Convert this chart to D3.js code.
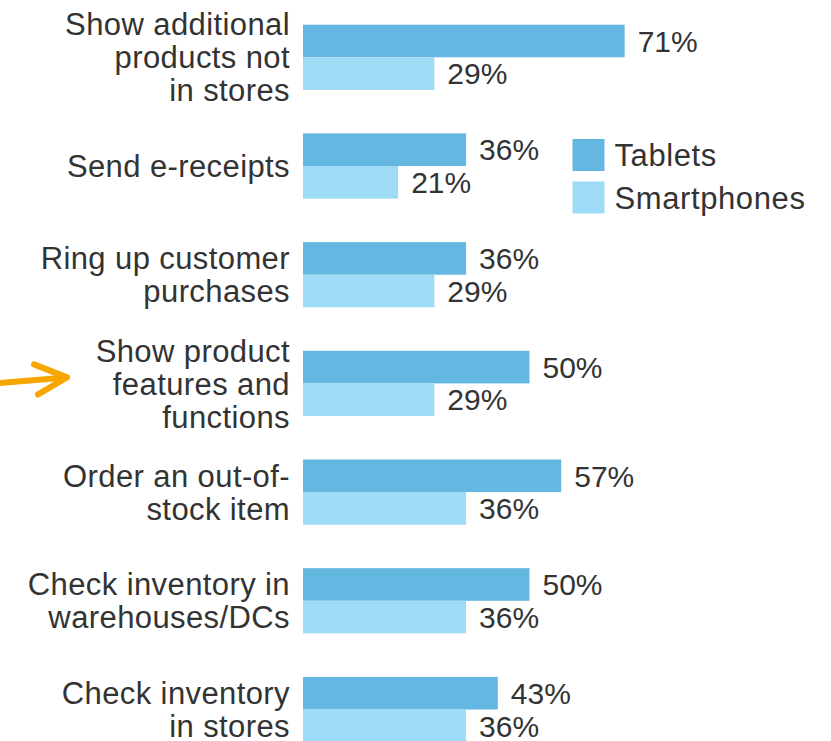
<!DOCTYPE html>
<html>
<head>
<meta charset="utf-8">
<script src="https://cdn.jsdelivr.net/npm/d3@7"></script>
<style>
  body { margin: 0; background: #fff; }
</style>
</head>
<body>
<div id="chart"></div>
<script>
  const categories = [
    "Show additional\nproducts not\nin stores",
    "Send e-receipts",
    "Ring up customer\npurchases",
    "Show product\nfeatures and\nfunctions",
    "Order an out-of-\nstock item",
    "Check inventory in\nwarehouses/DCs",
    "Check inventory\nin stores"
  ]
  const seriesNames = ["Tablets", "Smartphones"]
  const tablets = [71, 36, 36, 50, 57, 50, 43]
  const smartphones = [29, 21, 29, 29, 36, 36, 36]
  const highlighted = "Show product\nfeatures and\nfunctions"

  const width = 831
  const height = 741
  const colors = ["#63b7e1", "#9ddbf6"]

  const rows = categories.map((c, i) => ({ category: c, values: [tablets[i], smartphones[i]] }))

  const svg = d3.select("#chart")
    .append("svg")
    .attr("width", width)
    .attr("height", height)
    .attr("font-family", "'Liberation Sans', Arial, sans-serif")

  const x = d3.scaleLinear()
    .domain([0, 100])
    .range([303, 756])

  const y = d3.scaleBand()
    .domain(categories)
    .range([24.7, 742.1])
    .paddingInner(0.4)
    .paddingOuter(0)

  const ySub = d3.scaleBand()
    .domain(seriesNames)
    .range([0, y.bandwidth()])

  const group = svg.append("g")
    .selectAll("g")
    .data(rows)
    .join("g")
    .attr("transform", d => `translate(0,${y(d.category)})`)

  // bars
  group.selectAll("rect")
    .data(d => d.values.map((v, i) => ({ series: seriesNames[i], value: v, i })))
    .join("rect")
    .attr("x", x(0))
    .attr("y", d => ySub(d.series))
    .attr("width", d => x(d.value) - x(0))
    .attr("height", ySub.bandwidth())
    .attr("fill", d => colors[d.i])

  // value labels
  group.selectAll("text.value")
    .data(d => d.values.map((v, i) => ({ series: seriesNames[i], value: v })))
    .join("text")
    .attr("class", "value")
    .attr("x", d => x(d.value) + 13)
    .attr("y", d => ySub(d.series) + ySub.bandwidth() / 2)
    .attr("dy", "0.36em")
    .attr("font-size", 30)
    .attr("fill", "#333")
    .text(d => d.value + "%")

  // category labels, centred on each group
  const lineHeight = 33
  group.append("text")
    .attr("text-anchor", "end")
    .attr("font-size", 31)
    .attr("letter-spacing", 0.4)
    .attr("fill", "#333")
    .each(function (d) {
      const lines = d.category.split("\n")
      const top = y.bandwidth() / 2 - (lines.length - 1) * lineHeight / 2
      d3.select(this).selectAll("tspan")
        .data(lines)
        .join("tspan")
        .attr("x", 290)
        .attr("y", (l, i) => top + i * lineHeight)
        .attr("dy", "0.36em")
        .text(l => l)
    })

  // legend
  const legend = svg.append("g")
    .attr("transform", "translate(572.5,139)")
    .selectAll("g")
    .data(seriesNames)
    .join("g")
    .attr("transform", (d, i) => `translate(0,${i * 42.5})`)

  legend.append("rect")
    .attr("width", 32)
    .attr("height", 32)
    .attr("fill", (d, i) => colors[i])

  legend.append("text")
    .attr("x", 42)
    .attr("y", 16)
    .attr("dy", "0.36em")
    .attr("font-size", 31)
    .attr("letter-spacing", 0.6)
    .attr("fill", "#333")
    .text(d => d)

  // orange arrow pointing at the highlighted category
  const ay = y(highlighted) + y.bandwidth() / 2 - 6
  const arrow = svg.append("g")
    .attr("fill", "none")
    .attr("stroke", "#f7a600")
    .attr("stroke-width", 6)
    .attr("stroke-linecap", "round")
    .attr("stroke-linejoin", "round")
  arrow.append("line")
    .attr("x1", -5).attr("y1", ay + 6)
    .attr("x2", 66).attr("y2", ay)
  arrow.append("polyline")
    .attr("points", `34,${ay - 13} 67,${ay} 38,${ay + 17}`)
</script>
</body>
</html>
